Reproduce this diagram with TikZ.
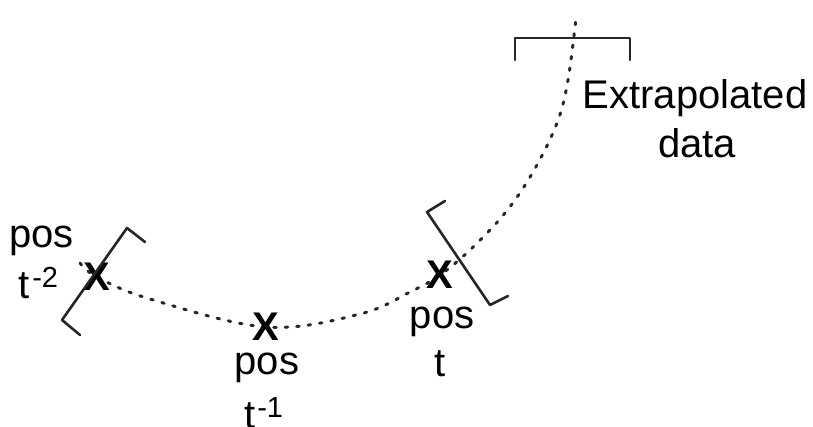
\documentclass[tikz,border=0pt]{standalone}
\usepackage{fontspec}
\setmainfont{Liberation Sans}
\begin{document}
\begin{tikzpicture}[x=1pt,y=-1pt,
  lbl/.style={inner sep=0pt,font=\fontsize{40}{46}\selectfont},
  xmark/.style={inner sep=0pt,font=\fontsize{40}{40}\selectfont\bfseries},
  brk/.style={line width=2.6pt,line cap=round,line join=round,draw=black!85},
  trail/.style={line width=3pt,dash pattern=on 2.5pt off 9pt,line cap=round,draw=black!85}]
\useasboundingbox (0,0) rectangle (813,426);
% dotted trajectory
\coordinate (c0) at (80,263);
\coordinate (c1) at (97,277);
\coordinate (c2) at (150,299);
\coordinate (c3) at (266,327);
\coordinate (c4) at (360,314);
\coordinate (c5) at (412,291);
\coordinate (c6) at (440,275);
\coordinate (c7) at (470,250);
\coordinate (c8) at (505,213);
\coordinate (c9) at (533,172);
\coordinate (c10) at (557,123);
\coordinate (c11) at (568,80);
\coordinate (c12) at (576,18);
\draw[trail] plot[smooth,tension=0.6] coordinates {(c0) (c1) (c2) (c3) (c4) (c5) (c6) (c7) (c8) (c9) (c10) (c11) (c12)};
% marks
\node[xmark] (m2) at (97,277) {X};
\node[xmark] (m1) at (266,327) {X};
\node[xmark] (m0) at (440,275) {X};
% brackets
\draw[brk] (145,242) -- (127,228) -- (62,320) -- (80,335);
\draw[brk] (445,201) -- (427,212) -- (490,305) -- (508,296);
\draw[brk] (515,60) -- (515,38) -- (630,38) -- (630,60);
% labels
\node[lbl,anchor=base west] (p2) at (9,247) {pos};
\node[lbl,anchor=base west] (t2) at (18,298) {t\kern3pt\raisebox{11pt}{\fontsize{29}{29}\selectfont -2}};
\node[lbl,anchor=base] (p1) at (267,374) {pos};
\node[lbl,anchor=base west] (t1) at (244,428) {t\kern2pt\raisebox{11pt}{\fontsize{29}{29}\selectfont -1}};
\node[lbl,anchor=base] (p0) at (442,328) {pos};
\node[lbl,anchor=base] (t0) at (440,376) {t};
\node[lbl,anchor=base] (e1) at (695,108) {Extrapolated};
\node[lbl,anchor=base] (e2) at (697,157) {data};
\end{tikzpicture}
\end{document}
